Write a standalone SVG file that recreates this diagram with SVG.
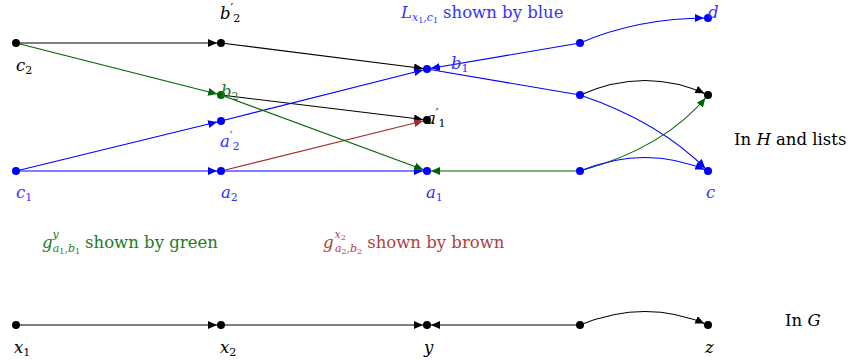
<svg xmlns="http://www.w3.org/2000/svg" width="851" height="360" viewBox="0 0 851 360">
<style>
  .e { fill: none; stroke-width: 1.1; }
  .k { stroke: #000; }
  .b { stroke: #0000ff; }
  .g { stroke: #006400; }
  .r { stroke: #a52a2a; }
  .nk { fill: #000; }
  .nb { fill: #0000ff; }
  .ng { fill: #006400; }
  text { font-family: "DejaVu Serif", "Liberation Serif", serif; font-size: 16.5px; }
  .it { font-style: italic; }
  .tk { fill: #000; }
  .tb { fill: #3333ff; }
  .tg { fill: #1e7a1e; }
  .tr { fill: #b04040; }
  .s { font-size: 11px; }
  .p { font-size: 12px; font-style: normal; }
  .ss { font-size: 8px; }
</style>
<defs>
  <marker id="ak" markerUnits="userSpaceOnUse" markerWidth="14" markerHeight="10" refX="13" refY="4" orient="auto"><path d="M0,0 L9,4 L0,8 z" fill="#000"/></marker>
  <marker id="ab" markerUnits="userSpaceOnUse" markerWidth="14" markerHeight="10" refX="13" refY="4" orient="auto"><path d="M0,0 L9,4 L0,8 z" fill="#0000ff"/></marker>
  <marker id="ag" markerUnits="userSpaceOnUse" markerWidth="14" markerHeight="10" refX="13" refY="4" orient="auto"><path d="M0,0 L9,4 L0,8 z" fill="#006400"/></marker>
  <marker id="ar" markerUnits="userSpaceOnUse" markerWidth="14" markerHeight="10" refX="13" refY="4" orient="auto"><path d="M0,0 L9,4 L0,8 z" fill="#a52a2a"/></marker>
</defs>

<g id="connectors">
  <path class="e k" d="M16,43 L221,43" marker-end="url(#ak)"/>
  <path class="e g" d="M16,43 L221,95" marker-end="url(#ag)"/>
  <path class="e k" d="M221,43 L427,69" marker-end="url(#ak)"/>
  <path class="e k" d="M221,95 L427,120" marker-end="url(#ak)"/>
  <path class="e b" d="M16,171 L221,121" marker-end="url(#ab)"/>
  <path class="e b" d="M221,121 L427,69" marker-end="url(#ab)"/>
  <path class="e b" d="M16,171 L221,171" marker-end="url(#ab)"/>
  <path class="e b" d="M221,171 L427,171" marker-end="url(#ab)"/>
  <path class="e r" d="M221,171 L427,120" marker-end="url(#ar)"/>
  <path class="e g" d="M221,95 L427,171" marker-end="url(#ag)"/>
  <path class="e g" d="M580,171 L427,171" marker-end="url(#ag)"/>
  <path class="e b" d="M580,43 L427,69" marker-end="url(#ab)"/>
  <path class="e b" d="M427,69 L580,95"/>
  <path class="e b" d="M580,43 C610,30 650,18 708,18" marker-end="url(#ab)"/>
  <path class="e k" d="M580,95 Q646,66 708,95" marker-end="url(#ak)"/>
  <path class="e b" d="M580,95 Q660,122 708,171" marker-end="url(#ab)"/>
  <path class="e g" d="M580,171 Q665,148 708,95" marker-end="url(#ag)"/>
  <path class="e b" d="M580,171 Q646,144 708,171" marker-end="url(#ab)"/>
  <path class="e k" d="M16,325 L221,325" marker-end="url(#ak)"/>
  <path class="e k" d="M221,325 L427,325" marker-end="url(#ak)"/>
  <path class="e k" d="M580,325 L427,325" marker-end="url(#ak)"/>
  <path class="e k" d="M580,325 Q646,298 708,325" marker-end="url(#ak)"/>
</g>

<g id="node-c2"><circle cx="16" cy="43" r="4" class="nk"/><text x="16" y="71" class="it tk">c<tspan class="s" font-style="normal" dy="3">2</tspan></text></g>
<g id="node-b2p"><circle cx="221" cy="43" r="4" class="nk"/><text x="220" y="19" class="it tk">b<tspan class="p" dy="-6">′</tspan><tspan class="s" font-style="normal" dy="9">2</tspan></text></g>
<g id="node-b2"><circle cx="221" cy="95" r="4" class="ng"/><text x="221" y="97" class="it tg">b<tspan class="s" font-style="normal" dy="3">2</tspan></text></g>
<g id="node-a2p"><circle cx="221" cy="121" r="4" class="nb"/><text x="220" y="147" class="it tb">a<tspan class="p" dy="-6">′</tspan><tspan class="s" font-style="normal" dy="9">2</tspan></text></g>
<g id="node-c1"><circle cx="16" cy="171" r="4" class="nb"/><text x="16" y="198" class="it tb">c<tspan class="s" font-style="normal" dy="3">1</tspan></text></g>
<g id="node-a2"><circle cx="221" cy="171" r="4" class="nb"/><text x="221" y="198" class="it tb">a<tspan class="s" font-style="normal" dy="3">2</tspan></text></g>
<g id="node-b1"><circle cx="427" cy="69" r="4" class="nb"/><text x="451" y="69" class="it tb">b<tspan class="s" font-style="normal" dy="3">1</tspan></text></g>
<g id="node-a1p"><circle cx="427" cy="120" r="4" class="nk"/><text x="426" y="124" class="it tk">a<tspan class="p" dy="-6">′</tspan><tspan class="s" font-style="normal" dy="9">1</tspan></text></g>
<g id="node-a1"><circle cx="427" cy="171" r="4" class="nb"/><text x="426" y="198" class="it tb">a<tspan class="s" font-style="normal" dy="3">1</tspan></text></g>
<g id="node-r1"><circle cx="580" cy="43" r="4" class="nb"/></g>
<g id="node-r2"><circle cx="580" cy="95" r="4" class="nb"/></g>
<g id="node-r3"><circle cx="580" cy="171" r="4" class="nb"/></g>
<g id="node-d"><circle cx="708" cy="18" r="4" class="nb"/><text x="708" y="18" class="it tb">d</text></g>
<g id="node-k"><circle cx="708" cy="95" r="4" class="nk"/></g>
<g id="node-c"><circle cx="708" cy="171" r="4" class="nb"/><text x="706" y="198" class="it tb">c</text></g>

<g id="node-x1"><circle cx="16" cy="325" r="4" class="nk"/><text x="14" y="353" class="it tk">x<tspan class="s" font-style="normal" dy="3">1</tspan></text></g>
<g id="node-x2"><circle cx="221" cy="325" r="4" class="nk"/><text x="220" y="353" class="it tk">x<tspan class="s" font-style="normal" dy="3">2</tspan></text></g>
<g id="node-y"><circle cx="427" cy="325" r="4" class="nk"/><text x="424" y="353" class="it tk">y</text></g>
<g id="node-g4"><circle cx="580" cy="325" r="4" class="nk"/></g>
<g id="node-z"><circle cx="708" cy="325" r="4" class="nk"/><text x="705" y="353" class="it tk">z</text></g>

<g id="labels">
  <text x="401" y="18" class="tb"><tspan class="it">L</tspan><tspan class="s it" dy="3">x</tspan><tspan class="ss" dy="2">1</tspan><tspan class="s it" dy="-2">,c</tspan><tspan class="ss" dy="2">1</tspan><tspan dy="-5" dx="5">shown by blue</tspan></text>
  <text x="734" y="145" class="tk">In <tspan class="it">H</tspan> and lists</text>
  <text x="785" y="326" class="tk">In <tspan class="it">G</tspan></text>
  <text x="42" y="248" class="tg"><tspan class="it">g</tspan><tspan class="s it" dy="-10">y</tspan><tspan class="s it" dx="-6" dy="14">a</tspan><tspan class="ss" dy="2">1</tspan><tspan class="s it" dy="-2">,b</tspan><tspan class="ss" dy="2">1</tspan><tspan dy="-6" dx="5">shown by green</tspan></text>
  <text x="323" y="248" class="tr"><tspan class="it">g</tspan><tspan class="s it" dx="1" dy="-10">x</tspan><tspan class="ss" dy="2">2</tspan><tspan class="s it" dx="-11" dy="12">a</tspan><tspan class="ss" dy="2">2</tspan><tspan class="s it" dy="-2">,b</tspan><tspan class="ss" dy="2">2</tspan><tspan dy="-6" dx="5">shown by brown</tspan></text>
</g>
</svg>
